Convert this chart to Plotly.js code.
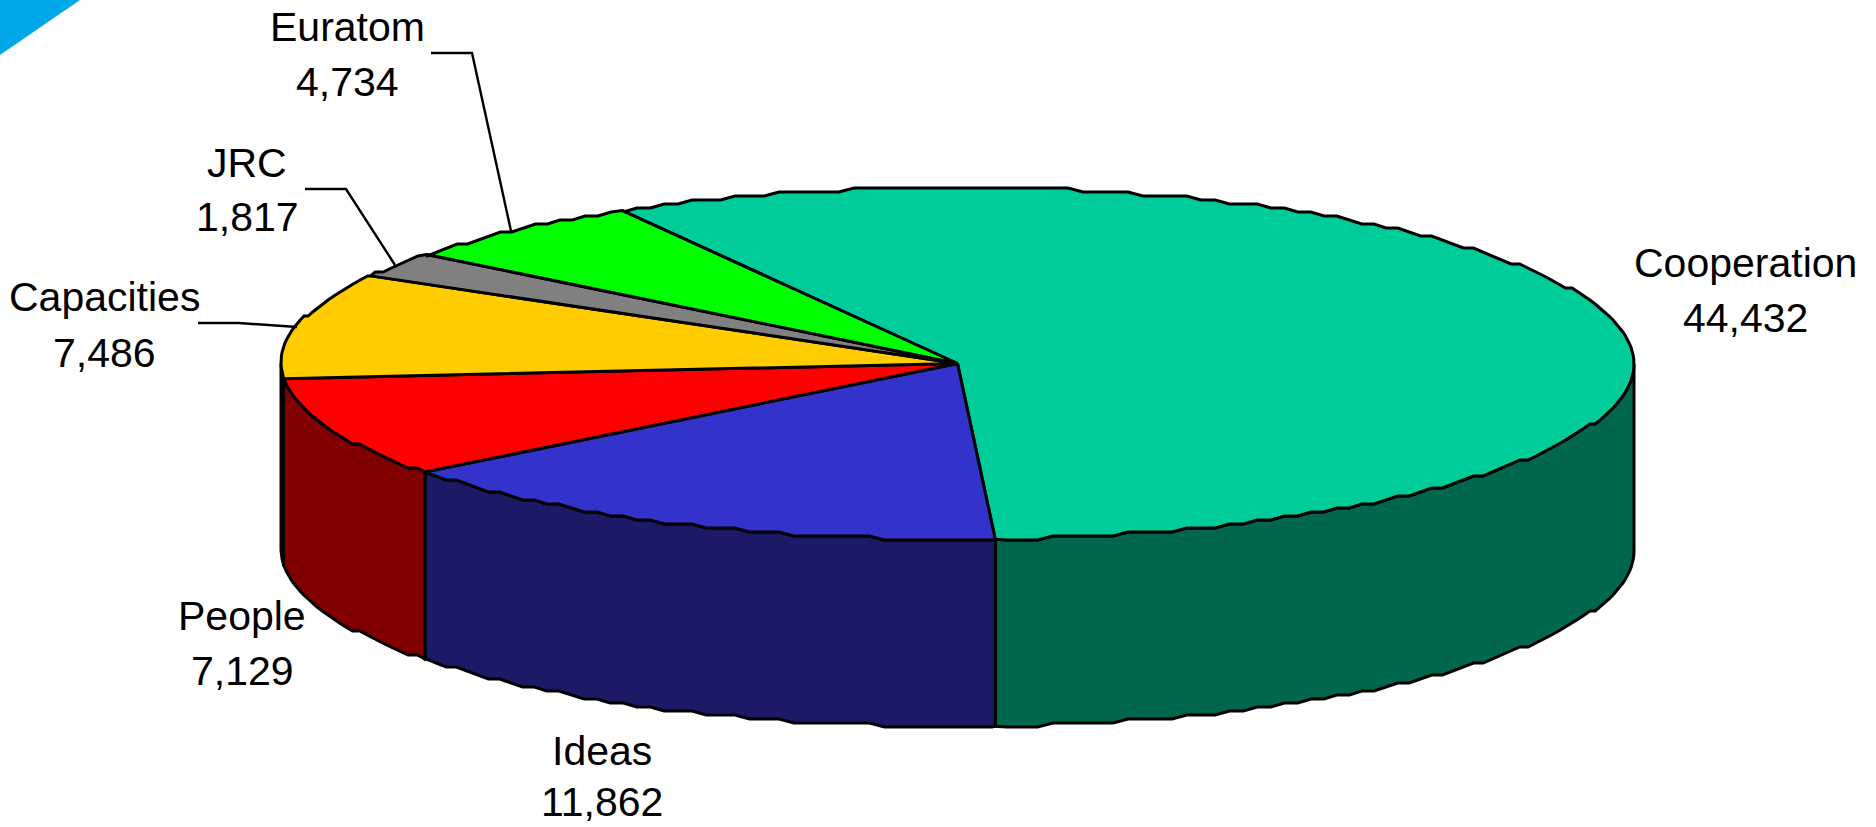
<!DOCTYPE html>
<html><head><meta charset="utf-8">
<script src="https://cdn.plot.ly/plotly-3.0.1.min.js"></script>
<style>html,body{margin:0;padding:0;background:#fff}#c{width:1876px;height:827px}</style>
</head><body><div id="c"></div>
<script>
const categories=["Cooperation","Ideas","People","Capacities","JRC","Euratom"];
const values=[44432,11862,7129,7486,1817,4734];
const topColors=["#00CC99","#3333CC","#FF0000","#FFCC00","#808080","#00FF00"];
const sideColors=["#00664D","#1A1A66","#800000","#806600","#404040","#008000"];
const labelX=[1745,602,242,104,247,347];
const nameY=[263,751,616,297,163,27];
const valueY=[318,802,671,353,217,82];
const leaders=[null,null,null,[[198,323],[239,323],[297,327]],[[305,189],[346,189],[395,265]],[[431,53],[472,53],[511,231]]];
const CX=957.5,CY=363.5,RX=676.5,RY=176,DEPTH=187,START=119.7,STEP=1.3,GY=4,LW=3;
const total=values.reduce((a,b)=>a+b,0);
const fmt=v=>v.toLocaleString("en-US");
function rim(deg,dy){
  const r=deg*Math.PI/180;
  return [CX+RX*Math.cos(r),CY-RY*Math.sin(r)+dy];
}
function snapRim(deg,dy){
  const p=rim(deg,0);
  return [p[0],Math.round(p[1]/GY)*GY+dy];
}
// Rim points lie on one fixed angular lattice, so neighbouring slices and the
// wall below share the same wavy outline.
function arc(a,b,dy){
  const pts=[rim(a,dy)];
  let k=Math.floor(a/STEP);
  while(k*STEP>b){
    if(k*STEP<a)pts.push(snapRim(k*STEP,dy));
    k--;
  }
  pts.push(rim(b,dy));
  return pts;
}
const traces=[],tops=[];
let ang=START;
values.forEach((v,i)=>{
  const a=ang,b=ang-v/total*360;ang=b;
  const sa=Math.min(a,0),sb=Math.max(b,-180);
  if(sa>sb){
    const up=arc(sa,sb,0),down=arc(sa,sb,DEPTH).reverse();
    const poly=up.concat(down,[up[0]]);
    traces.push({type:"scatter",mode:"lines",x:poly.map(p=>p[0]),y:poly.map(p=>p[1]),fill:"toself",fillcolor:sideColors[i],
      line:{color:"#000",width:LW},hoverinfo:"skip",showlegend:false});
  }
  const poly=[[CX,CY]].concat(arc(a,b,0),[[CX,CY]]);
  tops.push({type:"scatter",mode:"lines",name:categories[i],x:poly.map(p=>p[0]),y:poly.map(p=>p[1]),fill:"toself",fillcolor:topColors[i],
    line:{color:"#000",width:LW},hoverinfo:"skip",showlegend:false});
});
const shapes=[{type:"path",xref:"x",yref:"y",path:"M0,0 L80,0 L0,55 Z",fillcolor:"#00A7E8",line:{width:0},layer:"below"}];
leaders.forEach(l=>{ if(!l)return;
  shapes.push({type:"path",xref:"x",yref:"y",path:"M"+l.map(p=>p.join(",")).join(" L"),line:{color:"#000",width:2.4},fillcolor:"rgba(0,0,0,0)"});
});
const labelFont={family:"Liberation Sans, Arial, sans-serif",size:41,color:"#000"};
const mkLabel=(text,x,y)=>({xref:"x",yref:"y",x,y,xanchor:"center",yanchor:"middle",showarrow:false,align:"center",text,font:labelFont});
const annotations=categories.map((c,i)=>mkLabel(c,labelX[i],nameY[i]))
  .concat(values.map((v,i)=>mkLabel(fmt(v),labelX[i],valueY[i])));
Plotly.newPlot("c",traces.concat(tops),{
  width:1876,height:827,margin:{l:0,r:0,t:0,b:0},paper_bgcolor:"#fff",plot_bgcolor:"#fff",showlegend:false,
  xaxis:{range:[0,1876],visible:false,fixedrange:true},
  yaxis:{range:[827,0],visible:false,fixedrange:true},
  shapes,annotations
},{displayModeBar:false,staticPlot:true});
</script></body></html>
